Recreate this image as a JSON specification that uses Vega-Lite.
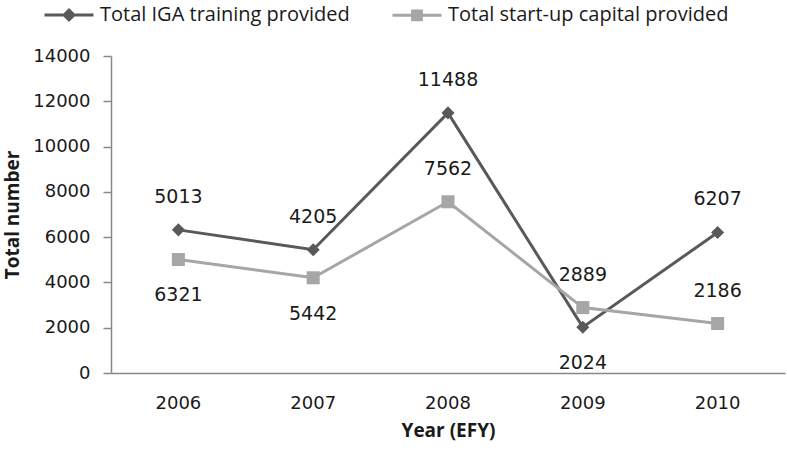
{
  "$schema": "https://vega.github.io/schema/vega-lite/v6.json",
  "width": 674,
  "height": 317,
  "autosize": "none",
  "padding": {"left": 111, "top": 56, "right": 2, "bottom": 79},
  "background": "white",
  "config": {
    "view": {"stroke": null},
    "font": "Open Sans",
    "axis": {"grid": false, "domainColor": "#888888", "domainWidth": 1.5, "tickColor": "#888888", "tickWidth": 1.5, "labelFont": "DejaVu Sans", "labelFontSize": 18, "labelColor": "#1a1a1a", "titleFont": "Open Sans", "titleFontSize": 19, "titleFontWeight": "bold", "titleColor": "#1a1a1a"}
  },
  "data": {
    "values": [
      {"year": "2006", "series": "Total IGA training provided", "value": 6321, "label": "5013", "placement": "above"},
      {"year": "2007", "series": "Total IGA training provided", "value": 5442, "label": "4205", "placement": "above"},
      {"year": "2008", "series": "Total IGA training provided", "value": 11488, "label": "11488", "placement": "above"},
      {"year": "2009", "series": "Total IGA training provided", "value": 2024, "label": "2024", "placement": "below"},
      {"year": "2010", "series": "Total IGA training provided", "value": 6207, "label": "6207", "placement": "above"},
      {"year": "2006", "series": "Total start-up capital provided", "value": 5013, "label": "6321", "placement": "below"},
      {"year": "2007", "series": "Total start-up capital provided", "value": 4205, "label": "5442", "placement": "below"},
      {"year": "2008", "series": "Total start-up capital provided", "value": 7562, "label": "7562", "placement": "above"},
      {"year": "2009", "series": "Total start-up capital provided", "value": 2889, "label": "2889", "placement": "above"},
      {"year": "2010", "series": "Total start-up capital provided", "value": 2186, "label": "2186", "placement": "above"}
    ]
  },
  "encoding": {
    "x": {"field": "year", "type": "ordinal", "scale": {"type": "band", "paddingInner": 0, "paddingOuter": 0},
      "axis": {"title": "Year (EFY)", "labelAngle": 0, "ticks": false, "labelPadding": 21, "titlePadding": 9}},
    "y": {"field": "value", "type": "quantitative", "scale": {"domain": [0, 14000], "nice": false},
      "axis": {"title": "Total number", "values": [0, 2000, 4000, 6000, 8000, 10000, 12000, 14000], "tickSize": 8, "labelPadding": 13, "titlePadding": 10, "format": "d"}}
  },
  "layer": [
    {
      "mark": {"type": "line", "strokeWidth": 3},
      "encoding": {
        "color": {"field": "series", "type": "nominal",
          "scale": {"domain": ["Total IGA training provided", "Total start-up capital provided"], "range": ["#595959", "#a6a6a6"]},
          "legend": {
            "orient": "none", "legendX": -68, "legendY": -67, "direction": "horizontal", "title": null, "padding": 0,
            "labelFont": "Open Sans", "labelFontSize": 20, "labelColor": "#1a1a1a", "labelOffset": 5, "labelLimit": 0,
            "symbolSize": 2401, "symbolStrokeWidth": 3, "columnPadding": 36,
            "encode": {"symbols": {"update": {
              "shape": {"signal": "datum.value === 'Total IGA training provided' ? 'M-1,0L1,0M0,-0.2L0.2,0L0,0.2L-0.2,0Z' : 'M-1,0L1,0M-0.18,-0.18L0.18,-0.18L0.18,0.18L-0.18,0.18Z'"},
              "fill": {"signal": "datum.value === 'Total IGA training provided' ? '#595959' : '#a6a6a6'"},
              "stroke": {"signal": "datum.value === 'Total IGA training provided' ? '#595959' : '#a6a6a6'"},
              "strokeWidth": {"value": 3},
              "opacity": {"value": 1}
            }}}
          }
        }
      }
    },
    {
      "transform": [{"filter": "datum.series === 'Total IGA training provided'"}],
      "mark": {"type": "point", "filled": true, "opacity": 1, "size": 170, "shape": "diamond"},
      "encoding": {"color": {"field": "series", "type": "nominal"}}
    },
    {
      "transform": [{"filter": "datum.series === 'Total start-up capital provided'"}],
      "mark": {"type": "point", "filled": true, "opacity": 1, "size": 170, "shape": "square"},
      "encoding": {"color": {"field": "series", "type": "nominal"}}
    },
    {
      "transform": [{"filter": "datum.placement === 'above'"}],
      "mark": {"type": "text", "dy": -33, "fontSize": 19, "font": "DejaVu Sans", "color": "#1a1a1a"},
      "encoding": {"text": {"field": "label", "type": "nominal"}}
    },
    {
      "transform": [{"filter": "datum.placement === 'below'"}],
      "mark": {"type": "text", "dy": 36, "fontSize": 19, "font": "DejaVu Sans", "color": "#1a1a1a"},
      "encoding": {"text": {"field": "label", "type": "nominal"}}
    }
  ]
}
